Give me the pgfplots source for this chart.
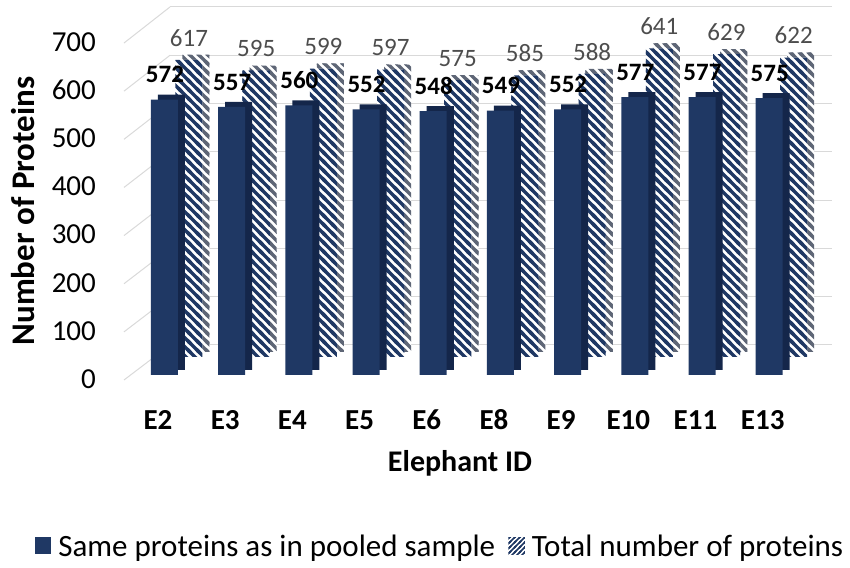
\documentclass[border=0pt]{standalone}
\usepackage{fontspec}
\setmainfont{Carlito}
\usepackage{pgfplots}
\usepackage{pgfplotstable}
\pgfplotsset{compat=1.18}
\usetikzlibrary{patterns}
\definecolor{navy}{HTML}{1F3864}
\definecolor{navyside}{HTML}{14264A}
\definecolor{gridgray}{HTML}{D9D9D9}
\definecolor{valgray}{HTML}{4D4D4D}
\pgfdeclarepatternformonly{bslash}{\pgfqpoint{-2pt}{-2pt}}{\pgfqpoint{11pt}{11pt}}{\pgfqpoint{9pt}{9pt}}{%
  \pgfsetlinewidth{3.3pt}%
  \pgfpathmoveto{\pgfqpoint{-1pt}{10pt}}\pgfpathlineto{\pgfqpoint{10pt}{-1pt}}%
  \pgfpathmoveto{\pgfqpoint{-2pt}{2pt}}\pgfpathlineto{\pgfqpoint{2pt}{-2pt}}%
  \pgfpathmoveto{\pgfqpoint{7pt}{11pt}}\pgfpathlineto{\pgfqpoint{11pt}{7pt}}%
  \pgfusepath{stroke}}
\pgfdeclarepatternformonly{fslash}{\pgfqpoint{-1pt}{-1pt}}{\pgfqpoint{6pt}{6pt}}{\pgfqpoint{5pt}{5pt}}{%
  \pgfsetlinewidth{1.6pt}%
  \pgfpathmoveto{\pgfqpoint{-1pt}{-1pt}}\pgfpathlineto{\pgfqpoint{6pt}{6pt}}%
  \pgfpathmoveto{\pgfqpoint{-1pt}{4pt}}\pgfpathlineto{\pgfqpoint{1pt}{6pt}}%
  \pgfpathmoveto{\pgfqpoint{4pt}{-1pt}}\pgfpathlineto{\pgfqpoint{6pt}{1pt}}%
  \pgfusepath{stroke}}
\pgfplotstableread{
x same total
0 572 617
1 557 595
2 560 599
3 552 597
4 548 575
5 549 585
6 552 588
7 577 641
8 577 629
9 575 622
}\datatable
\begin{document}
\begin{tikzpicture}
\path[use as bounding box] (0,0) rectangle (850pt,567pt);
% back wall gridlines
\begin{axis}[
  at={(170pt,222pt)}, anchor=south west,
  width=662pt, height=338pt, scale only axis,
  xmin=0, xmax=1, ymin=0, ymax=700,
  ytick={0,100,...,700}, yticklabels={}, xtick=\empty,
  ymajorgrids, grid style={gridgray, line width=1pt},
  axis line style={draw=none}, major tick length=0pt,
]
\end{axis}
\foreach \v in {0,...,7}
  \draw[gridgray, line width=1pt] (124pt,{(187+\v*48.14)*1pt}) -- (170pt,{(222+\v*48.29)*1pt});
% main axis
\begin{axis}[
  at={(124.4pt,192pt)}, anchor=south west,
  width=678.6pt, height=337pt, scale only axis,
  xmin=-0.5, xmax=9.6, ymin=0, ymax=700,
  clip=false,
  axis line style={draw=none}, major tick length=0pt,
  ytick={0,100,...,700},
  /pgf/number format/assume math mode=true,
  yticklabel style={font=\fontsize{29}{31}\selectfont, text=black, anchor=east, xshift=-25pt, yshift=-4pt},
  xtick={0,...,9},
  xticklabels={E2,E3,E4,E5,E6,E8,E9,E10,E11,E13},
  xticklabel style={font=\fontsize{29}{31}\selectfont\bfseries, anchor=center, yshift=-45pt},
  legend image code/.code={\path[#1] (0pt,-8.5pt) rectangle (16.5pt,8.5pt);},
  legend columns=2,
  legend style={draw=none, fill=none, at={(0.465,-0.5074)}, anchor=center,
    font=\fontsize{31}{35}\selectfont,
    /tikz/every even column/.append style={column sep=11pt},
    /tikz/every odd column/.append style={column sep=5pt}},
]
% back series extrusion (side + top)
\addplot[ybar, bar width=27pt, bar shift=6pt, draw=none, preaction={fill=white},
  pattern=bslash, pattern color=gray!65!navy,
  xshift=32pt, yshift=23pt, forget plot] table[x=x,y=total]{\datatable};
% back series face
\addplot[ybar, bar width=27pt, bar shift=6pt, draw=none, preaction={fill=white},
  pattern=bslash, pattern color=navy,
  xshift=25pt, yshift=18pt, forget plot,
  nodes near coords,
  every node near coord/.append style={font=\fontsize{25}{27}\selectfont, text=valgray, yshift=10pt, xshift=6pt}
  ] table[x=x,y=total]{\datatable};
% front series extrusion
\addplot[ybar, bar width=27pt, bar shift=6.5pt, draw=none, fill=navyside,
  xshift=7pt, yshift=5pt, forget plot] table[x=x,y=same]{\datatable};
% front series face
\addplot[ybar, bar width=27pt, bar shift=6.5pt, draw=none, fill=navy, forget plot,
  nodes near coords,
  every node near coord/.append style={font=\fontsize{25}{27}\selectfont\bfseries, text=black, yshift=13pt, xshift=7pt}
  ] table[x=x,y=same]{\datatable};
\addlegendimage{fill=navy, draw=none}
\addlegendentry{Same proteins as in pooled sample}
\addlegendimage{draw=none, preaction={fill=white}, pattern=fslash, pattern color=navy}
\addlegendentry{Total number of proteins}
\end{axis}
\node[rotate=90, font=\fontsize{33}{38}\selectfont\bfseries] at (23pt,356pt) {Number of Proteins};
\node[font=\fontsize{30}{34}\selectfont\bfseries] at (460pt,104pt) {Elephant ID};
\end{tikzpicture}
\end{document}
